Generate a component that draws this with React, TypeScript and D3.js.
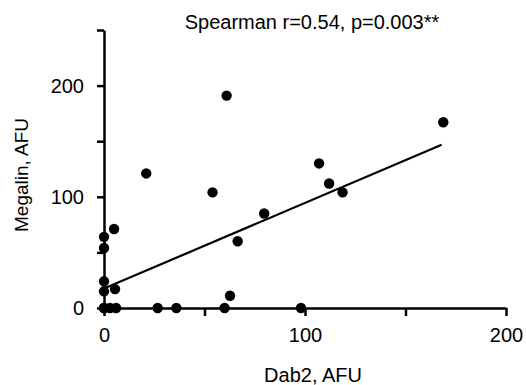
import { useEffect, useRef } from "react";
import * as d3 from "d3";

// Dab2 (x) vs Megalin (y), arbitrary fluorescence units
const dab2 = [0, 0, 0, 0, 0, 0, 3, 5, 5.5, 6, 26.7, 36, 60, 62.7, 66.5, 54, 79.7, 98, 21, 61, 107, 112, 118.7, 168.8];
const megalin = [0, 64, 54, 24, 15, 0, 0, 71, 17, 0, 0, 0, 0, 11, 60, 104, 85, 0, 121, 191, 130, 112, 104, 167];

const fitIntercept = 17.5;
const fitSlope = 0.77;
const fitRange = [0, 168];

const xTicks = [0, 50, 100, 150, 200];
const yTicks = [0, 50, 100, 150, 200, 250];
const labelled = [0, 100, 200];

const title = "Spearman r=0.54, p=0.003**";
const xTitle = "Dab2, AFU";
const yTitle = "Megalin, AFU";

export default function App() {
  const svgRef = useRef<SVGSVGElement | null>(null);

  useEffect(() => {
    const width = 526;
    const height = 385;
    const font = "Liberation Sans, Arial, sans-serif";

    const x = d3.scaleLinear().domain([0, 200]).range([104, 506]);
    const y = d3.scaleLinear().domain([0, 250]).range([308, 30]);

    const svg = d3
      .select(svgRef.current)
      .attr("width", width)
      .attr("height", height)
      .html("");

    const xAxis = svg
      .append("g")
      .attr("transform", `translate(0,${y(0)})`)
      .call(
        d3
          .axisBottom(x)
          .tickValues(xTicks)
          .tickSize(8)
          .tickSizeOuter(0)
          .tickFormat((d) => (labelled.includes(+d) ? String(d) : "")),
      );
    xAxis.select(".domain").attr("stroke-width", 2.5);
    xAxis.selectAll(".tick line").attr("stroke-width", 2.5);
    xAxis
      .selectAll("text")
      .attr("font-family", font)
      .attr("font-size", 20)
      .attr("fill", "#000")
      .attr("dy", "1.15em");

    const yAxis = svg
      .append("g")
      .attr("transform", `translate(${x(0)},0)`)
      .call(
        d3
          .axisLeft(y)
          .tickValues(yTicks)
          .tickSize(7)
          .tickSizeOuter(0)
          .tickFormat((d) => (labelled.includes(+d) ? String(d) : "")),
      );
    yAxis.select(".domain").attr("stroke-width", 2.5);
    yAxis.selectAll(".tick line").attr("stroke-width", 2.5);
    yAxis
      .selectAll("text")
      .attr("font-family", font)
      .attr("font-size", 20)
      .attr("fill", "#000")
      .attr("x", -20);

    const line = d3
      .line<number>()
      .x((d) => x(d))
      .y((d) => y(fitIntercept + fitSlope * d));
    svg
      .append("path")
      .attr("d", line(fitRange))
      .attr("fill", "none")
      .attr("stroke", "#000")
      .attr("stroke-width", 2.2);

    svg
      .append("g")
      .selectAll("circle")
      .data(dab2.map((d, i) => [d, megalin[i]]))
      .join("circle")
      .attr("cx", (d) => x(d[0]))
      .attr("cy", (d) => y(d[1]))
      .attr("r", 5.2)
      .attr("fill", "#000");

    svg
      .append("text")
      .attr("x", 312)
      .attr("y", 29)
      .attr("text-anchor", "middle")
      .attr("font-family", font)
      .attr("font-size", 20)
      .text(title);

    svg
      .append("text")
      .attr("x", 313)
      .attr("y", 382)
      .attr("text-anchor", "middle")
      .attr("font-family", font)
      .attr("font-size", 20)
      .text(xTitle);

    svg
      .append("text")
      .attr("transform", "translate(28,175) rotate(-90)")
      .attr("text-anchor", "middle")
      .attr("font-family", font)
      .attr("font-size", 19)
      .text(yTitle);
  }, []);

  return (
    <div style={{ position: "absolute", left: 0, top: 0 }}>
      <svg ref={svgRef}></svg>
    </div>
  );
}
